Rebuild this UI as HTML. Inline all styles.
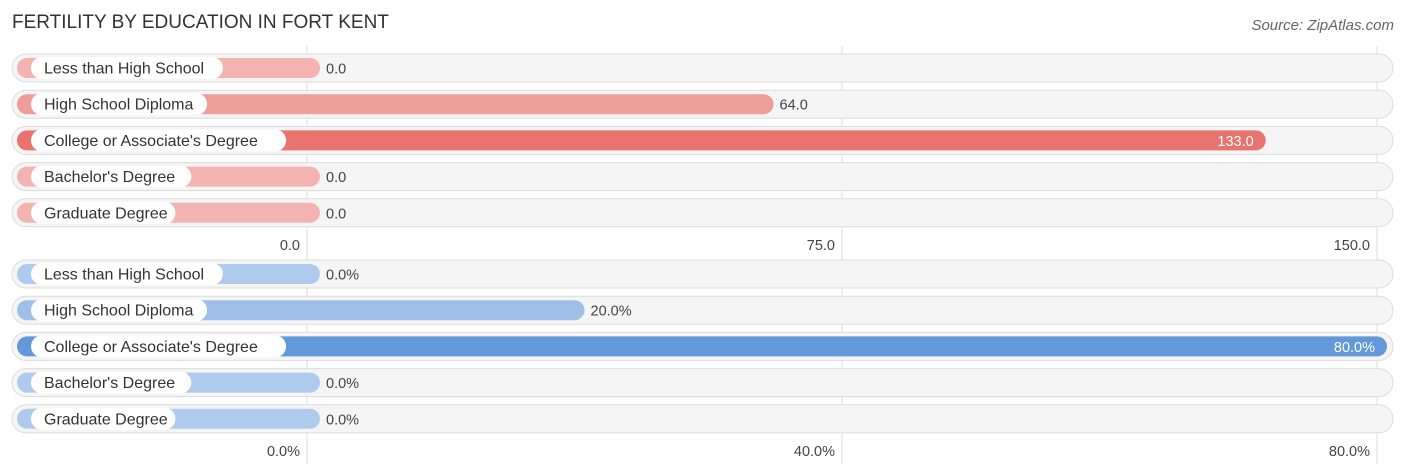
<!DOCTYPE html>
<html><head><meta charset="utf-8"><style>
body{margin:0;background:#fff;font-family:"Liberation Sans",sans-serif;}
svg{display:block}
</style></head><body>
<svg id="c" width="1406" height="475" xmlns="http://www.w3.org/2000/svg">
<text x="12" y="28" font-size="19" fill="#333">FERTILITY BY EDUCATION IN FORT KENT</text>
<text x="1394" y="30" font-size="15" fill="#666" font-style="italic" text-anchor="end">Source: ZipAtlas.com</text>
</svg>
<script>
const categories = ["Less than High School","High School Diploma","College or Associate's Degree","Bachelor's Degree","Graduate Degree"];
const countValues = [0, 64, 133, 0, 0];
const countTicks = [0, 75, 150];
const countTickLabels = ["0.0","75.0","150.0"];
const pctValues = [0, 20, 80, 0, 0];
const pctTicks = [0, 40, 80];
const pctTickLabels = ["0.0%","40.0%","80.0%"];

const svg = document.getElementById('c');
const NS = 'http://www.w3.org/2000/svg';
function mk(tag, attrs, parent){const e=document.createElementNS(NS,tag);for(const k in attrs)e.setAttribute(k,attrs[k]);(parent||svg).appendChild(e);return e;}

function panel(prefix, values, ticks, tickLabels, maxV, top, fmt, colFull, colLight, colZero, tickY){
  const x0=307, x1=1377;
  const xs = v => x0 + (v/maxV)*(x1-x0);
  const g = mk('g',{});
  
  
  ticks.forEach((t,i)=>{
    const l=mk('line',{x1:xs(t),x2:xs(t),y1:top-22,y2:tickY+8,stroke:'#ddd','stroke-width':1},g);
    
    
  });
  const vmax=Math.max(...values);
  values.forEach((v,i)=>{
    const cy = top + i*36.2;
    const bg=mk('rect',{x:12,y:cy-14,width:1381,height:28,rx:14,fill:'#f5f5f5',stroke:'#dcdcdc','stroke-width':1},g);
    
    
    const labW = categories[i].length*7.9+26;
    const endX = Math.max(xs(v)+10, 320);
    const col = v===vmax ? colFull : (v===0 ? colZero : colLight);
    const bar=mk('rect',{x:17,y:cy-10,width:endX-17,height:20,rx:10,fill:col},g);
    
    
    const pill=mk('rect',{x:31,y:cy-11,width:labW,height:22,rx:11,fill:'#fff'},g);
    
    
    const t=mk('text',{x:44,y:cy+5.5,'font-size':16,fill:'#333'},g);
    t.textContent=categories[i];
    
    
    const inside = v===vmax;
    const vt=mk('text',{x: inside? endX-12 : endX+6, y:cy+5.5,'font-size':14.5,fill: inside?'#fff':'#444','text-anchor': inside?'end':'start'},g);
    vt.textContent=fmt(v);
    
    
  });
  ticks.forEach((t,i)=>{
    const tx=mk('text',{x:xs(t)-7,y:tickY,'font-size':14.5,fill:'#444','text-anchor':'end'},g);
    tx.textContent=tickLabels[i];
    
    
  });
}
panel('count', countValues, countTicks, countTickLabels, 150, 68, v=>v.toFixed(1), '#e8736f', '#ee9d99', '#f3b3b0', 250);
panel('percent', pctValues, pctTicks, pctTickLabels, 80, 274, v=>v.toFixed(1)+'%', '#6399da', '#9dbfe8', '#aecbee', 456);
</script>
</body></html>
